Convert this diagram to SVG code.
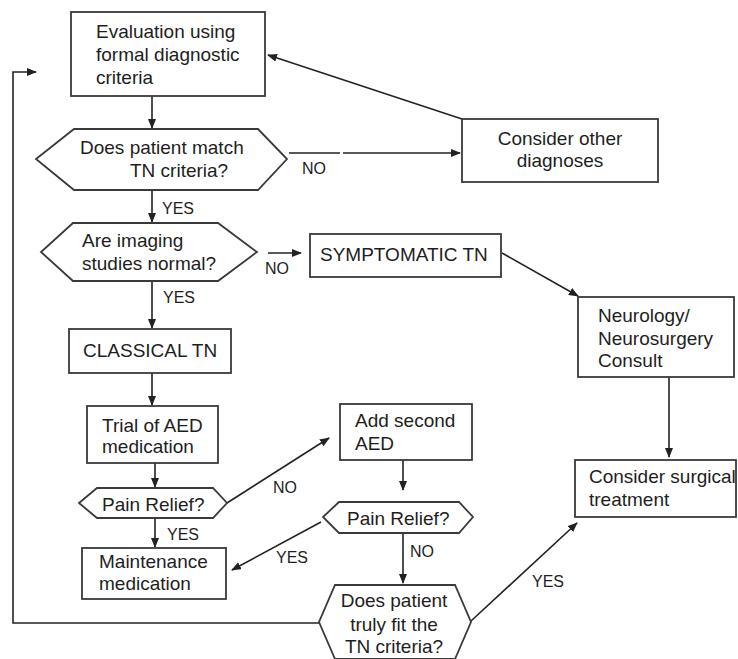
<svg xmlns="http://www.w3.org/2000/svg" width="738" height="659" viewBox="0 0 738 659">
<style>
.box{fill:#fff;stroke:#3a3a3a;stroke-width:1.8}
.t{font-family:"Liberation Sans",Arial,sans-serif;font-size:19px;fill:#1e1e1e}
.lb{font-family:"Liberation Sans",Arial,sans-serif;font-size:16px;fill:#1e1e1e}
.c{fill:none;stroke:#222;stroke-width:1.6}
</style>
<defs>
<marker id="ah" markerUnits="userSpaceOnUse" markerWidth="10" markerHeight="8" refX="9" refY="4" orient="auto">
<path d="M0,0 L10,4 L0,8 Z" fill="#222"/>
</marker>
</defs>
<rect width="738" height="659" fill="#fff"/>
<g id="connectors">
<path class="c" d="M152,96 V128" marker-end="url(#ah)"/>
<path class="c" d="M289,153 H340 M343,153 H460" marker-end="url(#ah)"/>
<path class="c" d="M462,119 L268,55" marker-end="url(#ah)"/>
<path class="c" d="M152,190 V222" marker-end="url(#ah)"/>
<path class="c" d="M268,253 H301" marker-end="url(#ah)"/>
<path class="c" d="M152,281 V328" marker-end="url(#ah)"/>
<path class="c" d="M152,373 V405" marker-end="url(#ah)"/>
<path class="c" d="M155,463 V487" marker-end="url(#ah)"/>
<path class="c" d="M155,518 V547" marker-end="url(#ah)"/>
<path class="c" d="M227,503 L329,438" marker-end="url(#ah)"/>
<path class="c" d="M403,460 V490" marker-end="url(#ah)"/>
<path class="c" d="M321,522 L232,570" marker-end="url(#ah)"/>
<path class="c" d="M403,533 V583" marker-end="url(#ah)"/>
<path class="c" d="M319,623 H13 V72 H36" marker-end="url(#ah)"/>
<path class="c" d="M471,621 L577,523" marker-end="url(#ah)"/>
<path class="c" d="M502,253 L578,296" marker-end="url(#ah)"/>
<path class="c" d="M669,377 V457" marker-end="url(#ah)"/>
<text class="lb" x="162" y="214">YES</text>
<text class="lb" x="163" y="303">YES</text>
<text class="lb" x="302" y="174">NO</text>
<text class="lb" x="265" y="274">NO</text>
<text class="lb" x="273" y="493">NO</text>
<text class="lb" x="167" y="540">YES</text>
<text class="lb" x="276" y="563">YES</text>
<text class="lb" x="410" y="557">NO</text>
<text class="lb" x="532" y="587">YES</text>
</g>
<g id="eval">
<rect class="box" x="71" y="12" width="194" height="84"/>
<text class="t" x="96" y="38">Evaluation using</text>
<text class="t" x="96" y="61">formal diagnostic</text>
<text class="t" x="96" y="84">criteria</text>
</g>
<g id="match">
<polygon class="box" points="74,129 258,129 287,159 258,190 74,190 36,159"/>
<text class="t" x="80" y="154">Does patient match</text>
<text class="t" x="130" y="177">TN criteria?</text>
</g>
<g id="other">
<rect class="box" x="462" y="119" width="196" height="63"/>
<text class="t" x="560" y="145" text-anchor="middle">Consider other</text>
<text class="t" x="560" y="167" text-anchor="middle">diagnoses</text>
</g>
<g id="imaging">
<polygon class="box" points="73,223 218,223 257,252 218,281 73,281 41,252"/>
<text class="t" x="82" y="247">Are imaging</text>
<text class="t" x="82" y="270">studies normal?</text>
</g>
<g id="symptomatic">
<rect class="box" x="310" y="234" width="191" height="43"/>
<text class="t" x="320" y="261">SYMPTOMATIC TN</text>
</g>
<g id="classical">
<rect class="box" x="69" y="329" width="162" height="44"/>
<text class="t" x="83" y="357">CLASSICAL TN</text>
</g>
<g id="neuro">
<rect class="box" x="578" y="297" width="156" height="80"/>
<text class="t" x="598" y="322">Neurology/</text>
<text class="t" x="598" y="345">Neurosurgery</text>
<text class="t" x="598" y="367">Consult</text>
</g>
<g id="trial">
<rect class="box" x="87" y="406" width="131" height="57"/>
<text class="t" x="102" y="432">Trial of AED</text>
<text class="t" x="102" y="453">medication</text>
</g>
<g id="pain1">
<polygon class="box" points="97,488 213,488 227,503 213,518 97,518 79,503"/>
<text class="t" x="102" y="511">Pain Relief?</text>
</g>
<g id="maint">
<rect class="box" x="82" y="548" width="144" height="51"/>
<text class="t" x="99" y="568">Maintenance</text>
<text class="t" x="99" y="590">medication</text>
</g>
<g id="add">
<rect class="box" x="340" y="404" width="132" height="56"/>
<text class="t" x="355" y="427">Add second</text>
<text class="t" x="355" y="450">AED</text>
</g>
<g id="pain2">
<polygon class="box" points="339,502 459,502 473,517 459,533 339,533 323,517"/>
<text class="t" x="347" y="525">Pain Relief?</text>
</g>
<g id="surgical">
<rect class="box" x="575" y="460" width="161" height="57"/>
<text class="t" x="589" y="483">Consider surgical</text>
<text class="t" x="589" y="506">treatment</text>
</g>
<g id="truly">
<polygon class="box" points="335,585 455,585 471,622 455,659 335,659 319,622"/>
<text class="t" x="394" y="607" text-anchor="middle">Does patient</text>
<text class="t" x="394" y="631" text-anchor="middle">truly fit the</text>
<text class="t" x="394" y="653" text-anchor="middle">TN criteria?</text>
</g>
</svg>
